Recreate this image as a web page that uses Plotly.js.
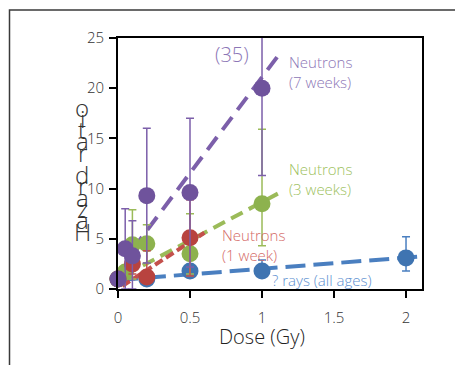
<!DOCTYPE html>
<html>
<head>
<meta charset="utf-8">
<script src="https://cdn.plot.ly/plotly-3.0.1.min.js"></script>
<style>html,body{margin:0;padding:0;background:#fff;}#chart{width:455px;height:365px;}</style>
</head>
<body>
<div id="chart"></div>
<script>
// ---- Data ----
const purpleX    = [0, 0.05, 0.1, 0.2, 0.5, 1.0];
const purpleY    = [1.0, 4.0, 3.3, 9.3, 9.6, 20.0];
const purpleUp   = [0, 4.0, 3.5, 6.7, 7.4, 15.0];
const purpleDown = [0, 4.0, 3.3, 6.7, 7.4, 8.7];

const greenX    = [0, 0.05, 0.1, 0.2, 0.5, 1.0];
const greenY    = [1.0, 1.7, 4.4, 4.5, 3.5, 8.5];
const greenUp   = [0, 0, 3.5, 1.9, 4.0, 7.4];
const greenDown = [0, 0, 3.4, 1.9, 2.0, 4.2];

const redX    = [0, 0.1, 0.2, 0.5];
const redY    = [1.0, 2.5, 1.2, 5.1];
const redUp   = [0, 1.0, 2.6, 3.8];
const redDown = [0, 1.0, 0.6, 3.8];

const blueX    = [0, 0.2, 0.5, 1.0, 2.0];
const blueY    = [1.0, 1.0, 1.8, 1.8, 3.1];
const blueUp   = [0, 0.3, 0.4, 1.1, 2.1];
const blueDown = [0, 0.3, 0.4, 0.6, 1.3];

// trend line end points
const purpleTrendX = [0.1, 1.11];
const purpleTrendY = [3.9, 23.2];
const greenTrendX  = [0.05, 1.11];
const greenTrendY  = [1.4, 9.5];
const redTrendX    = [0.03, 0.6];
const redTrendY    = [0.3, 5.6];
const blueTrendX   = [0, 2.11];
const blueTrendY   = [0.9, 3.25];

const xTicks = [0, 0.5, 1, 1.5, 2];
const xTickText = ['0', '0.5', '1', '1.5', '2'];
const yTicks = [0, 5, 10, 15, 20, 25];

const seriesLabels = ['Neutrons<br>(7 weeks)', 'Neutrons<br>(3 weeks)', 'Neutrons<br>(1 week)', '? rays (all ages)'];
const overflowLabel = '(35)';
const yTitleText = 'Hazard ratio';
const xTitleText = 'Dose (Gy)';

// ---- Styles ----
const FONT = '"Open Sans", "Liberation Sans", sans-serif';
const col = {
  purple: {m: '#6F539C', l: '#7C5FAA', t: '#8C76B6'},
  green:  {m: '#8DB24E', l: '#9BBB59', t: '#9DBF5E'},
  red:    {m: '#B8433F', l: '#C4504C', t: '#D46A66'},
  blue:   {m: '#3F74B1', l: '#4A7FC0', t: '#5D90D0'}
};

function trend(x, y, c, dash) {
  return {x: x, y: y, type: 'scatter', mode: 'lines', hoverinfo: 'skip',
    line: {color: c, width: 4, dash: dash}, showlegend: false};
}
function pts(x, y, up, down, c) {
  return {x: x, y: y, type: 'scatter', mode: 'markers', cliponaxis: false, showlegend: false,
    marker: {color: c.m, size: 17, line: {width: 0}},
    error_y: {type: 'data', symmetric: false, array: up, arrayminus: down,
      color: c.l, thickness: 1.5, width: 4}};
}

const traces = [
  trend(blueTrendX, blueTrendY, col.blue.l, '20px,8px'),
  trend(greenTrendX, greenTrendY, col.green.l, '13px,7px'),
  trend(redTrendX, redTrendY, col.red.l, '9px,4px'),
  trend(purpleTrendX, purpleTrendY, col.purple.l, '16px,9px'),
  pts(blueX, blueY, blueUp, blueDown, col.blue),
  pts(greenX, greenY, greenUp, greenDown, col.green),
  pts(redX, redY, redUp, redDown, col.red),
  pts(purpleX, purpleY, purpleUp, purpleDown, col.purple)
];

// pixel -> paper helpers (plot area 118..422 x 38..289)
const L = 118, T = 38, W = 304, H = 251;
const px = v => (v - L) / W;
const py = v => (T + H - v) / H;

const annotations = [
  {text: overflowLabel, x: px(232), y: py(54), xanchor: 'center', yanchor: 'middle', font: {size: 20, color: col.purple.t}},
  {text: seriesLabels[0], x: px(287), y: py(72), xanchor: 'left', yanchor: 'middle', align: 'left', font: {size: 15, color: col.purple.t}},
  {text: seriesLabels[1], x: px(287), y: py(179), xanchor: 'left', yanchor: 'middle', align: 'left', font: {size: 15, color: col.green.t}},
  {text: seriesLabels[2], x: px(220), y: py(245), xanchor: 'left', yanchor: 'middle', align: 'left', font: {size: 15, color: col.red.t}},
  {text: seriesLabels[3], x: px(270), y: py(280), xanchor: 'left', yanchor: 'middle', align: 'left', font: {size: 15, color: col.blue.t}},
  {text: xTitleText, x: px(262), y: py(336), xanchor: 'center', yanchor: 'middle', font: {size: 20, color: '#222'}}
].map(a => Object.assign({xref: 'paper', yref: 'paper', showarrow: false}, a,
  {font: Object.assign({family: FONT, weight: 300}, a.font)}));

// stacked y-axis title letters, bottom (H) to top
const letters = yTitleText.split('');
const yBottom = 231, yTop = 107;
letters.forEach((ch, i) => {
  if (ch === ' ') return;
  const yy = yBottom - (yBottom - yTop) * i / (letters.length - 1);
  annotations.push({text: ch, xref: 'paper', yref: 'paper', x: px(82), y: py(yy),
    xanchor: 'center', yanchor: 'middle', showarrow: false,
    font: {family: FONT, weight: 300, size: 24, color: '#333333'}});
});

const layout = {
  width: 455, height: 365,
  margin: {l: L, r: 455 - L - W, t: T, b: 365 - T - H, pad: 0},
  paper_bgcolor: '#ffffff', plot_bgcolor: '#ffffff',
  showlegend: false,
  xaxis: {range: [0, 2.111], tickvals: xTicks, ticktext: xTickText, showgrid: false, zeroline: false,
    showline: true, linecolor: '#000', linewidth: 2, mirror: true,
    ticks: 'outside', ticklen: 7, tickwidth: 2, tickcolor: '#000', ticklabelstandoff: 7,
    tickfont: {family: FONT, weight: 300, size: 15, color: '#333'}},
  yaxis: {range: [0, 25], tickvals: yTicks, showgrid: false, zeroline: false,
    showline: true, linecolor: '#000', linewidth: 2, mirror: true,
    ticks: 'outside', ticklen: 7, tickwidth: 2, tickcolor: '#000', ticklabelstandoff: 2,
    tickfont: {family: FONT, weight: 300, size: 15, color: '#333'}},
  annotations: annotations,
  shapes: [{type: 'rect', xref: 'paper', yref: 'paper', x0: px(9.5), x1: px(470), y0: py(380), y1: py(10),
    line: {color: '#3a3a3a', width: 1.5}, fillcolor: 'rgba(0,0,0,0)', layer: 'below'}]
};

Plotly.newPlot('chart', traces, layout, {staticPlot: true, displayModeBar: false});
</script>
</body>
</html>
